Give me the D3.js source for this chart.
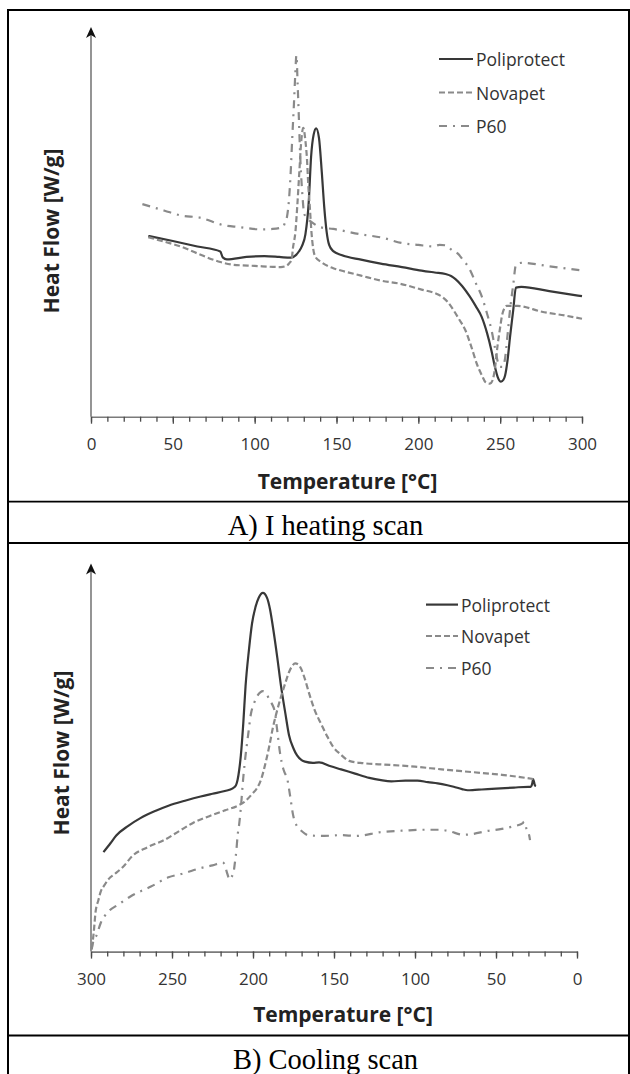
<!DOCTYPE html>
<html>
<head>
<meta charset="utf-8">
<script src="https://cdn.jsdelivr.net/npm/d3@7"></script>
<style>
  html, body { margin: 0; padding: 0; background: #fff; }
  svg { display: block; }
</style>
</head>
<body>
<div id="chart"></div>
<script>
// ---------------- DATA ----------------
const seriesNames = ["Poliprotect", "Novapet", "P60"];
const xTicksMinor = d3.range(0, 301, 10);
const xTicksMajor = [0, 50, 100, 150, 200, 250, 300];

// Heating scan [temperature °C, relative heat flow (arbitrary units)]
const poliprotectHeating = [[35,46.5],[50,45.2],[65,43.8],[79,42.5],[80.5,41],[83,40.5],[95,41.1],[106,41.3],[115,41.1],[122,40.9],[125,41.5],[127,42.5],[129,44],[131,46.9],[133,55],[134.5,67],[136,72.5],[137.6,74.2],[139.3,71.7],[141,63],[142.5,54],[144,47.5],[145.5,44.2],[148,42.6],[153,41.6],[165,40.4],[177,39.4],[190,38.5],[202,37.6],[210,37.1],[216.6,36.7],[220,36.2],[222.7,35.4],[227,33.5],[231.3,31],[235,28.5],[238.7,25.7],[242,21.5],[244.8,16.8],[246.7,13],[248.5,10.2],[250.5,9],[252,9.5],[253,10.6],[254.5,14.5],[256,20.4],[258,27.5],[259.6,33.2],[263,33.4],[280,32.3],[300,31]];
const novapetHeating = [[35,46.2],[45,45],[54.7,43.8],[65,42],[79,39.8],[86.6,39.1],[100,38.8],[116,38.5],[119.5,38.8],[121,39.4],[122.6,40.5],[123.4,43.4],[125,48],[126,54],[127.3,63],[128.3,70],[129.7,74.3],[131,71],[132,66],[132.7,60],[133.7,54],[134.7,47.5],[135.7,43.4],[137,41.2],[140.6,39.8],[148,38.2],[152.8,37.6],[165,36.3],[177.3,35],[189,34.2],[202,32.7],[210,31.8],[214,31],[218,29.5],[221.5,27.4],[225,25],[228.9,22.1],[232,18.5],[236,13.3],[239,10.5],[241,8.9],[243.4,8.5],[244.5,8.7],[246.5,11.5],[248.5,18.6],[250,23],[251,25.7],[253,28.2],[254,28.5],[260.7,28.5],[275.5,27],[290,26],[300,25.2]];
const p60Heating = [[31.4,54.7],[45,53],[54.7,51.8],[66.6,51.2],[81.7,49.2],[90,48.8],[103.8,48.2],[111,48.3],[117.3,48.8],[118.5,49.9],[119.7,51.3],[121,56],[122,62.8],[123,72],[124,80.5],[124.8,88],[125.5,93],[126.3,85],[127,77],[127.8,67.3],[129,58],[130.3,52.2],[132,51],[134,50.3],[140.6,48.7],[148,48.3],[165,46.9],[178.6,46],[189.6,44.7],[200,44.2],[209,43.8],[213,44.2],[216.6,44.1],[221,42.7],[224,42],[227,40.5],[231.3,38],[235,34.5],[238.7,31],[242,26.5],[244.8,22.1],[246.7,18],[248.5,14.2],[250,12.8],[251.5,12.8],[253,15],[254.5,21],[256,27.4],[258,34],[259.6,39],[263,39.6],[280,38.7],[300,37.6]];

// Cooling scan [temperature °C, relative heat flow (arbitrary units)]
const poliprotectCooling = [[292.3,25.7],[288,28],[284.4,30],[277,32.5],[269.5,34.5],[260,36.4],[252.2,37.7],[242,39],[232.3,40.1],[225,40.8],[217.4,41.5],[212.5,42.2],[210.5,43],[209.5,44.4],[208.5,47],[207.5,50.7],[206,59],[204.6,68.6],[202.5,78],[200.6,84.8],[198.5,89],[196.4,91.5],[193.9,92.7],[191.4,91.5],[189.5,88.5],[187.7,83.9],[185,76],[182.7,68.6],[180,61.5],[177.8,56],[175,52.5],[172.8,50.7],[170,49.5],[167.9,49.1],[163,48.8],[159.2,48.9],[152,47.9],[145.6,47.1],[137,46],[128.2,44.9],[121,44.3],[114.6,44],[106,44.2],[98.5,44.2],[92,43.8],[86,43.5],[80,43],[76.1,42.6],[71,42],[67.5,41.7],[63,41.8],[58.8,41.9],[50,42.1],[38.9,42.4],[30,42.6],[28.6,42.6],[27.6,43.5],[27.1,44.6],[26.5,43.8],[26,43],[25.3,42.8]];
const novapetCooling = [[299.5,0.8],[298.3,5],[297.2,10.2],[295.5,13.2],[294,15.5],[292,17],[289,18.8],[285.5,20],[280,22],[274.5,24.7],[265,27],[255,28.8],[245,31.3],[237.3,33.2],[227,35],[217.4,36.5],[210,37.6],[205,38.8],[200.4,40.8],[197.6,42.2],[195,44.5],[192.7,48],[190,53],[187.7,57.9],[185,62.5],[182.7,65.9],[180,69.5],[177.8,72.2],[175.5,74],[174,74.5],[172,74.2],[170.3,73.1],[168,70.5],[165.4,66.8],[162,62.5],[157.9,58.8],[154,55.5],[150.5,52.9],[146,51],[140.6,49.3],[132,48.7],[120.8,48.4],[100,47.8],[83.6,47.1],[65,46.4],[46.4,45.7],[35,45.1],[27,44.6]];
const p60Cooling = [[299.6,0.5],[299.3,1.3],[298.3,3],[296.8,4],[294,7.4],[289.3,10.3],[283,12.2],[274.7,14.5],[263,16.8],[252.2,19.2],[243,20.2],[232.3,21.6],[225,22.3],[218.7,23],[217.4,22.5],[216.2,20.6],[214.2,18.6],[213.7,19],[212,20.5],[211.2,22.9],[210.3,26],[209.5,30],[208.5,33],[207.5,37.2],[206,45],[204.6,50.7],[203,56],[201.3,61.4],[199.5,64],[197.6,65.9],[195.5,67],[193.9,67.3],[192.5,67],[191.4,66.4],[190,65.2],[188.5,64.2],[186.4,61.6],[185,57],[183.3,51.3],[181.5,47.5],[180.4,46.2],[179,44.9],[177,40],[175.3,35.4],[173,32.5],[171.6,31.8],[168,30.5],[165.4,30],[156,29.9],[145.6,30.1],[136.4,29.9],[120.8,30.9],[106,31.3],[94,31.5],[85,31.5],[78.6,31.1],[70.5,30.2],[66.2,30.3],[55,31.2],[46.4,31.7],[40,32.3],[33.4,33.2],[32.8,33.6],[31,31.5],[29.5,30],[29,28.8]];

// ---------------- STYLE ----------------
const styles = [
  { color: "#383838", dash: null },
  { color: "#8a8a8a", dash: "6,3" },
  { color: "#8a8a8a", dash: "8,6,2,6" }
];
const W = 630, H = 1074;
const svg = d3.select("#chart").append("svg").attr("width", W).attr("height", H);
svg.append("rect").attr("width", W).attr("height", H).attr("fill", "#fff");

// table frame
const frame = svg.append("g").attr("stroke", "#000").attr("fill", "none");
frame.append("line").attr("x1", 8).attr("x2", 8).attr("y1", 9).attr("y2", H).attr("stroke-width", 2);
frame.append("line").attr("x1", 629).attr("x2", 629).attr("y1", 9).attr("y2", H).attr("stroke-width", 2);
frame.append("line").attr("x1", 7).attr("x2", W).attr("y1", 10).attr("y2", 10).attr("stroke-width", 2);
[501.7, 543, 1035.5].forEach(y => {
  frame.append("line").attr("x1", 7).attr("x2", W).attr("y1", y).attr("y2", y).attr("stroke-width", 1.8);
});

function panel(cfg) {
  const g = svg.append("g");
  const x = d3.scaleLinear().domain(cfg.xDomain).range([cfg.x0, cfg.x1]);
  const y = d3.scaleLinear().domain([0, 100]).range([cfg.yAxis, cfg.yTop]);

  // minor ticks
  const minor = g.append("g").attr("transform", `translate(0,${cfg.yAxis})`)
    .call(d3.axisBottom(x).tickValues(xTicksMinor).tickSize(5).tickSizeOuter(0).tickFormat(""));
  minor.select(".domain").attr("stroke", "#7a7a7a").attr("stroke-width", 1.6);
  minor.selectAll(".tick line").attr("stroke", "#4a4a4a").attr("stroke-width", 1.3);
  // major ticks + labels
  const major = g.append("g").attr("transform", `translate(0,${cfg.yAxis})`)
    .call(d3.axisBottom(x).tickValues(xTicksMajor).tickSize(7).tickSizeOuter(0));
  major.select(".domain").remove();
  major.selectAll(".tick line").attr("stroke", "#4a4a4a").attr("stroke-width", 1.3);
  major.selectAll(".tick text")
    .attr("y", cfg.labelY - cfg.yAxis).attr("dy", "0.36em")
    .attr("font-family", "'Open Sans', sans-serif").attr("font-size", 17).attr("fill", "#333");

  // y axis with arrow
  g.append("line").attr("x1", x(cfg.xDomain[0])).attr("x2", x(cfg.xDomain[0]))
    .attr("y1", cfg.yAxis).attr("y2", cfg.arrowTip + 8)
    .attr("stroke", "#7a7a7a").attr("stroke-width", 1.6);
  const ax = x(cfg.xDomain[0]);
  g.append("path")
    .attr("d", `M${ax},${cfg.arrowTip} L${ax - 5},${cfg.arrowTip + 11} L${ax},${cfg.arrowTip + 8} L${ax + 5},${cfg.arrowTip + 11} Z`)
    .attr("fill", "#111");

  // curves
  const line = d3.line().x(d => x(d[0])).y(d => y(d[1])).curve(d3.curveMonotoneX);
  cfg.series.forEach((s, i) => {
    g.append("path").datum(s).attr("d", line)
      .attr("fill", "none").attr("stroke", styles[i].color).attr("stroke-width", 2.2)
      .attr("stroke-dasharray", styles[i].dash).attr("stroke-linejoin", "round");
  });

  // legend
  seriesNames.forEach((name, i) => {
    const ly = cfg.legendY[i];
    g.append("line").attr("x1", cfg.legendX).attr("x2", cfg.legendX + cfg.legendLen)
      .attr("y1", ly - 1).attr("y2", ly - 1)
      .attr("stroke", styles[i].color).attr("stroke-width", 2.2).attr("stroke-dasharray", styles[i].dash);
    g.append("text").attr("x", cfg.legendX + cfg.legendLen + 3).attr("y", ly).attr("dy", "0.36em")
      .attr("font-family", "'Open Sans', sans-serif").attr("font-size", 17.5).attr("fill", "#333")
      .text(name);
  });

  // axis titles
  g.append("text").attr("x", cfg.xTitle[0]).attr("y", cfg.xTitle[1]).attr("dy", "0.36em")
    .attr("text-anchor", "middle").attr("font-family", "'Open Sans', sans-serif")
    .attr("font-weight", "bold").attr("font-size", 21).attr("fill", "#222")
    .text("Temperature [°C]");
  g.append("text").attr("transform", `translate(${cfg.yTitle[0]},${cfg.yTitle[1]}) rotate(-90)`)
    .attr("dy", "0.36em").attr("text-anchor", "middle").attr("font-family", "'Open Sans', sans-serif")
    .attr("font-weight", "bold").attr("font-size", 21).attr("fill", "#222")
    .text("Heat Flow [W/g]");

  // caption
  g.append("text").attr("x", 325.5).attr("y", cfg.captionY).attr("text-anchor", "middle")
    .attr("font-family", "'Liberation Serif', 'Times New Roman', serif").attr("font-size", 28.5).attr("fill", "#000")
    .text(cfg.caption);
}

panel({
  xDomain: [0, 300], x0: 91, x1: 582, yAxis: 416.7, yTop: 28, arrowTip: 27, labelY: 444,
  series: [poliprotectHeating, novapetHeating, p60Heating],
  legendX: 439, legendLen: 34, legendY: [60, 93.5, 127],
  xTitle: [347.5, 481], yTitle: [51, 231],
  caption: "A) I heating scan", captionY: 535
});
panel({
  xDomain: [300, 0], x0: 91, x1: 577, yAxis: 951.6, yTop: 564.7, arrowTip: 563.5, labelY: 978.5,
  series: [poliprotectCooling, novapetCooling, p60Cooling],
  legendX: 426, legendLen: 32, legendY: [605.6, 637, 669],
  xTitle: [343, 1014], yTitle: [61, 753],
  caption: "B) Cooling scan", captionY: 1068.5
});
</script>
</body>
</html>
